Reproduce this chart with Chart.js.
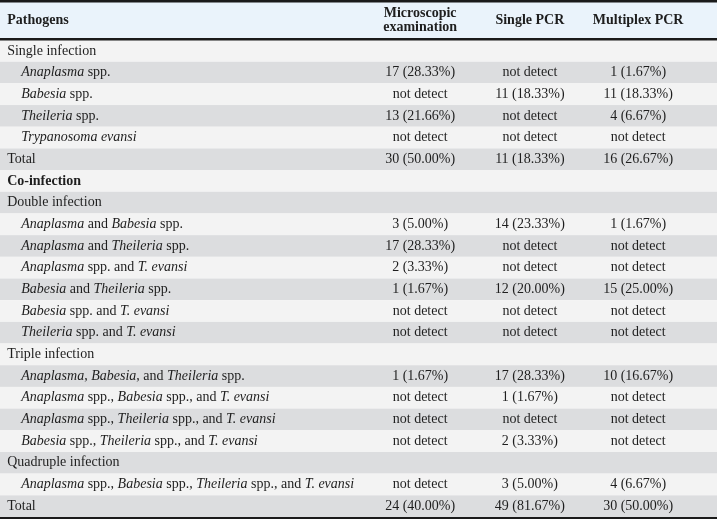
<!DOCTYPE html>
<html><head><meta charset="utf-8">
<script src="https://cdn.jsdelivr.net/npm/chart.js@4"></script>
<style>html,body{margin:0;padding:0;background:#fff}#wrap{width:717px;height:519px}</style>
</head><body><div id="wrap"><canvas id="c"></canvas></div>
<script>
// rows: label (*...* = italic), indent flag, bold flag
const rowLabels = ['Single infection','*Anaplasma* spp.','*Babesia* spp.','*Theileria* spp.','*Trypanosoma evansi*','Total','Co-infection','Double infection',
  '*Anaplasma* and *Babesia* spp.','*Anaplasma* and *Theileria* spp.','*Anaplasma* spp. and *T. evansi*','*Babesia* and *Theileria* spp.','*Babesia* spp. and *T. evansi*','*Theileria* spp. and *T. evansi*',
  'Triple infection','*Anaplasma*, *Babesia*, and *Theileria* spp.','*Anaplasma* spp., *Babesia* spp., and *T. evansi*','*Anaplasma* spp., *Theileria* spp., and *T. evansi*','*Babesia* spp., *Theileria* spp., and *T. evansi*',
  'Quadruple infection','*Anaplasma* spp., *Babesia* spp., *Theileria* spp., and *T. evansi*','Total'];
const indented = [0,1,1,1,1,0,0,0,1,1,1,1,1,1,0,1,1,1,1,0,1,0];
const boldRows = [6];
const nd = 'not detect';
const microscopic = ['','17 (28.33%)',nd,'13 (21.66%)',nd,'30 (50.00%)','','','3 (5.00%)','17 (28.33%)','2 (3.33%)','1 (1.67%)',nd,nd,'','1 (1.67%)',nd,nd,nd,'',nd,'24 (40.00%)'];
const singlePCR = ['',nd,'11 (18.33%)',nd,nd,'11 (18.33%)','','','14 (23.33%)',nd,nd,'12 (20.00%)',nd,nd,'','17 (28.33%)','1 (1.67%)',nd,'2 (3.33%)','','3 (5.00%)','49 (81.67%)'];
const multiplexPCR = ['','1 (1.67%)','11 (18.33%)','4 (6.67%)',nd,'16 (26.67%)','','','1 (1.67%)',nd,nd,'15 (25.00%)',nd,nd,'','10 (16.67%)',nd,nd,nd,'','4 (6.67%)','30 (50.00%)'];
const headers = [['Pathogens'],['Microscopic','examination'],['Single PCR'],['Multiplex PCR']];
const colPos = [1, 58.6, 73.9, 89.0]; // x-scale units (0-100)

const F = '"Liberation Serif", "DejaVu Serif", serif';
const SZ = '14px ';
function drawRich(ctx, s, x, y, bold) {
  s.split('*').forEach((p, i) => {
    ctx.font = (i % 2 ? 'italic ' : '') + (bold ? 'bold ' : '') + SZ + F;
    ctx.fillText(p, x, y);
    x += ctx.measureText(p).width;
  });
}

const tablePlugin = {
  id: 'table',
  beforeDraw(chart) {
    const ctx = chart.ctx, y = chart.scales.y, W = chart.width;
    const h = y.getPixelForValue(1) - y.getPixelForValue(0);
    ctx.save();
    ctx.fillStyle = '#eaf3fb'; ctx.fillRect(0, 0, W, y.top);
    rowLabels.forEach((_, i) => {
      ctx.fillStyle = i % 2 ? '#dcdddf' : '#f3f3f3';
      ctx.fillRect(0, y.getPixelForValue(i) - h / 2, W, h);
    });
    ctx.fillStyle = '#1a1a1a';
    ctx.fillRect(0, 0, W, 2.5);
    ctx.fillRect(0, y.top - 2, W, 2.5);
    ctx.fillRect(0, y.bottom, W, chart.height - y.bottom);
    ctx.restore();
  },
  afterDraw(chart) {
    const ctx = chart.ctx, y = chart.scales.y, x = chart.scales.x;
    ctx.save();
    ctx.fillStyle = '#1e1e1e'; ctx.textBaseline = 'middle';
    headers.forEach((lines, c) => {
      lines.forEach((t, k) => {
        const yy = y.top / 2 + (k - (lines.length - 1) / 2) * 14;
        ctx.font = 'bold ' + SZ + F;
        ctx.textAlign = c === 0 ? 'left' : 'center';
        ctx.fillText(t, x.getPixelForValue(colPos[c]), yy);
      });
    });
    const cols = [microscopic, singlePCR, multiplexPCR];
    rowLabels.forEach((lab, i) => {
      const yy = y.getPixelForValue(i);
      ctx.textAlign = 'left';
      drawRich(ctx, lab, x.getPixelForValue(colPos[0]) + (indented[i] ? 14 : 0), yy, boldRows.includes(i));
      ctx.textAlign = 'center'; ctx.font = SZ + F;
      cols.forEach((arr, c) => ctx.fillText(arr[i], x.getPixelForValue(colPos[c + 1]), yy));
    });
    ctx.restore();
  }
};

new Chart(document.getElementById('c'), {
  type: 'scatter',
  data: { labels: rowLabels, datasets: [{ data: [] }] },
  options: {
    responsive: true, maintainAspectRatio: false, animation: false,
    layout: { padding: { top: 40, bottom: 2, left: 0, right: 0 } },
    plugins: { legend: { display: false }, tooltip: { enabled: false } },
    scales: {
      x: { type: 'linear', min: 0, max: 100, display: false },
      y: { type: 'category', labels: rowLabels, offset: true, display: false }
    }
  },
  plugins: [tablePlugin]
});
</script></body></html>
